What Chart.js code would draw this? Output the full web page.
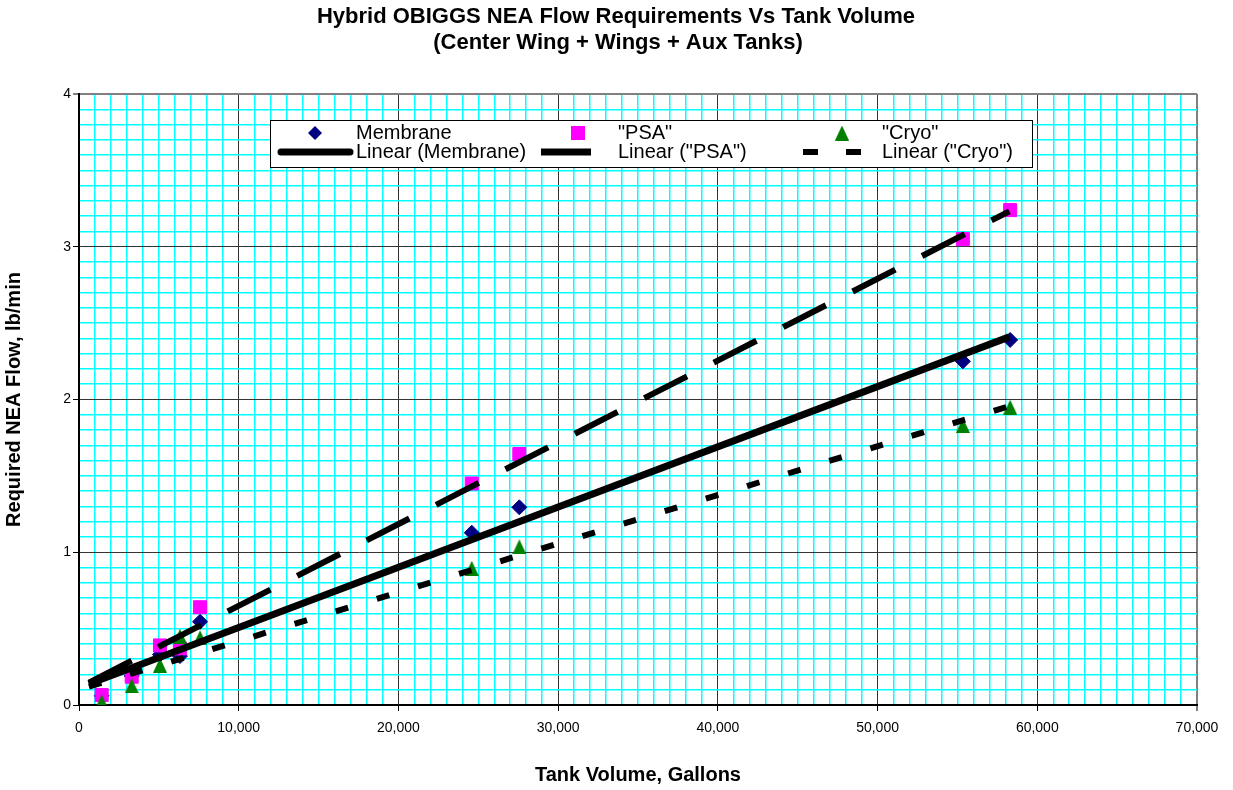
<!DOCTYPE html>
<html><head><meta charset="utf-8">
<script src="https://cdn.jsdelivr.net/npm/chart.js@4.4.0/dist/chart.umd.min.js"></script>
<style>html,body{margin:0;padding:0;background:#fff;} #wrap{width:1233px;height:790px;position:relative;}</style>
</head><body><div id="wrap"><canvas id="c" width="1233" height="790"></canvas></div>
<script>
// ---- data ----
const tankVolume   = [1420, 3300, 5070, 6320, 7580, 24590, 27570, 55340, 58300];
const membraneFlow = [0.06, 0.19, 0.33, 0.32, 0.545, 1.128, 1.294, 2.25, 2.39];
const psaFlow      = [0.065, 0.185, 0.39, 0.37, 0.64, 1.45, 1.643, 3.05, 3.24];
const cryoFlow     = [0.02, 0.126, 0.26, 0.45, 0.44, 0.895, 1.036, 1.83, 1.95];
const trendVolume   = [620, 58250];
const membraneTrend = [0.137, 2.41];
const psaTrend      = [0.147, 3.232];
const cryoTrend     = [0.12, 1.957];
const titleLines = ['Hybrid OBIGGS NEA Flow Requirements Vs Tank Volume', '(Center Wing + Wings + Aux Tanks)'];
const xAxisTitle = 'Tank Volume, Gallons';
const yAxisTitle = 'Required NEA Flow, lb/min';
const seriesNames = ['Membrane', '"PSA"', '"Cryo"'];
const trendNames = ['Linear (Membrane)', 'Linear ("PSA")', 'Linear ("Cryo")'];

const NAVY = '#000080', MAGENTA = '#FF00FF', GREEN = '#008000';
const FONT = '"Liberation Sans", Arial, sans-serif';

function pts(xs, ys) { return xs.map((x, i) => ({x: x, y: ys[i]})); }

// triangle marker (Excel style, slightly taller than wide)
const tri = document.createElement('canvas');
tri.width = 14; tri.height = 15;
(function(){ const c = tri.getContext('2d'); c.fillStyle = GREEN; c.beginPath(); c.moveTo(0,15); c.lineTo(7,0); c.lineTo(14,15); c.closePath(); c.fill(); })();

function isMajorX(v) { return Math.abs(v % 10000) < 1e-6; }
function isMajorY(v) { return Math.abs(v - Math.round(v)) < 1e-6; }

const titlePlugin = {
  id: 'titleTxt',
  afterDraw(chart) {
    const ctx = chart.ctx;
    ctx.save();
    ctx.fillStyle = '#000';
    ctx.font = 'bold 22px ' + FONT;
    ctx.textAlign = 'center';
    ctx.textBaseline = 'middle';
    ctx.fillText(titleLines[0], 616, 17);
    ctx.fillText(titleLines[1], 618, 43);
    ctx.restore();
  }
};

const legendPlugin = {
  id: 'legendBox',
  afterDraw(chart) {
    const ctx = chart.ctx;
    ctx.save();
    ctx.fillStyle = '#fff';
    ctx.fillRect(270, 120, 762, 47);
    ctx.strokeStyle = '#000';
    ctx.lineWidth = 1;
    ctx.strokeRect(270.5, 120.5, 762, 47);
    const r1 = 133, r2 = 152;
    // diamond
    ctx.fillStyle = NAVY;
    ctx.beginPath(); ctx.moveTo(315, r1 - 7); ctx.lineTo(322, r1); ctx.lineTo(315, r1 + 7); ctx.lineTo(308, r1); ctx.closePath(); ctx.fill();
    // square
    ctx.fillStyle = MAGENTA;
    ctx.fillRect(571, r1 - 7, 14, 14);
    // triangle
    ctx.drawImage(tri, 842 - 7, r1 - 7.5);
    // line samples
    ctx.strokeStyle = '#000';
    ctx.lineWidth = 7; ctx.lineCap = 'round';
    ctx.beginPath(); ctx.moveTo(281, r2); ctx.lineTo(350, r2); ctx.stroke();
    ctx.lineCap = 'butt';
    ctx.beginPath(); ctx.moveTo(541, r2); ctx.lineTo(591, r2); ctx.stroke();
    ctx.lineWidth = 6;
    ctx.beginPath(); ctx.moveTo(803, r2); ctx.lineTo(818, r2); ctx.moveTo(846, r2); ctx.lineTo(861, r2); ctx.stroke();
    // texts
    ctx.fillStyle = '#000';
    ctx.font = '20px ' + FONT;
    ctx.textAlign = 'left';
    ctx.textBaseline = 'middle';
    ctx.fillText(seriesNames[0], 356, r1);
    ctx.fillText(seriesNames[1], 618, r1);
    ctx.fillText(seriesNames[2], 882, r1);
    ctx.fillText(trendNames[0], 356, r2);
    ctx.fillText(trendNames[1], 618, r2);
    ctx.fillText(trendNames[2], 882, r2);
    ctx.restore();
  }
};

new Chart(document.getElementById('c'), {
  type: 'scatter',
  data: {
    datasets: [
      { label: trendNames[0], data: pts(trendVolume, membraneTrend), showLine: true, pointRadius: 0, borderColor: '#000', borderWidth: 7, borderCapStyle: 'butt', order: 0 },
      { label: trendNames[1], data: pts(trendVolume, psaTrend), showLine: true, pointRadius: 0, borderColor: '#000', borderWidth: 6, borderDash: [48, 30], borderCapStyle: 'butt', order: 0 },
      { label: trendNames[2], data: pts(trendVolume, cryoTrend), showLine: true, pointRadius: 0, borderColor: '#000', borderWidth: 6, borderDash: [13, 30], borderCapStyle: 'butt', order: 0 },
      { label: seriesNames[0], data: pts(tankVolume, membraneFlow), pointStyle: 'rectRot', pointRadius: 7.5, backgroundColor: NAVY, borderColor: NAVY, borderWidth: 1, order: 3 },
      { label: seriesNames[1], data: pts(tankVolume, psaFlow), pointStyle: 'rect', pointRadius: 9.2, backgroundColor: MAGENTA, borderColor: MAGENTA, borderWidth: 1, order: 2 },
      { label: seriesNames[2], data: pts(tankVolume, cryoFlow), pointStyle: tri, pointRadius: 7, backgroundColor: GREEN, borderColor: GREEN, order: 1 }
    ]
  },
  options: {
    responsive: false,
    animation: false,
    events: [],
    layout: { padding: { top: 94, right: 36, left: 0, bottom: 0 } },
    plugins: { legend: { display: false }, title: { display: false }, tooltip: { enabled: false } },
    scales: {
      x: {
        type: 'linear', min: 0, max: 70000,
        afterFit(s) { s.height = 85; },
        ticks: {
          stepSize: 1000, autoSkip: false, maxRotation: 0, minRotation: 0, padding: 9,
          color: '#000', font: { family: FONT, size: 14 },
          callback: (v) => isMajorX(v) ? Math.round(v).toLocaleString('en-US') : ''
        },
        grid: {
          color: (c) => { const v = c.tick.value; if (v === 70000) return '#808080'; return isMajorX(v) ? '#333333' : '#00FFFF'; },
          lineWidth: (c) => { const v = c.tick.value; if (v === 70000) return 2; return isMajorX(v) ? 1 : 1.5; },
          tickColor: (c) => isMajorX(c.tick.value) ? '#000' : 'rgba(0,0,0,0)',
          tickLength: 6, tickWidth: 1
        },
        border: { color: '#000', width: 2 },
        title: { display: true, text: xAxisTitle, color: '#000', font: { family: FONT, size: 20, weight: 'bold' }, padding: { top: 0, bottom: 3 } }
      },
      y: {
        type: 'linear', min: 0, max: 4,
        afterFit(s) { s.width = 79; },
        ticks: {
          stepSize: 0.1, autoSkip: false, padding: 2,
          color: '#000', font: { family: FONT, size: 14 },
          callback: (v) => isMajorY(v) ? String(Math.round(v)) : ''
        },
        grid: {
          color: (c) => { const v = c.tick.value; if (Math.abs(v - 4) < 1e-6) return '#808080'; return isMajorY(v) ? '#333333' : '#00FFFF'; },
          lineWidth: (c) => { const v = c.tick.value; if (Math.abs(v - 4) < 1e-6) return 2; return isMajorY(v) ? 1 : 1.5; },
          tickColor: (c) => isMajorY(c.tick.value) ? '#000' : 'rgba(0,0,0,0)',
          tickLength: 6, tickWidth: 1
        },
        border: { color: '#000', width: 2 },
        title: { display: true, text: yAxisTitle, color: '#000', font: { family: FONT, size: 20, weight: 'bold' }, padding: { top: 2, bottom: 0 } }
      }
    }
  },
  plugins: [titlePlugin, legendPlugin]
});
</script>
</body></html>
